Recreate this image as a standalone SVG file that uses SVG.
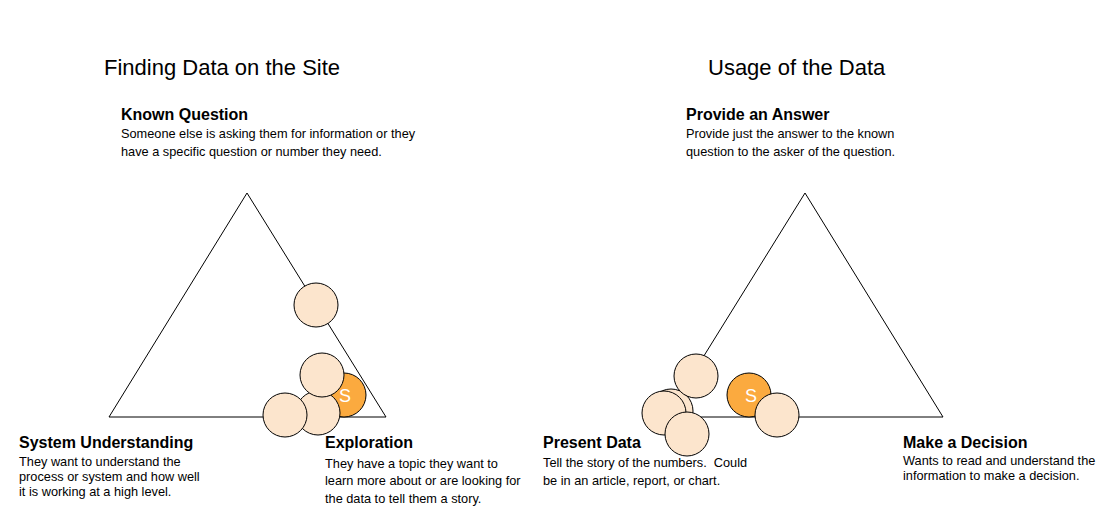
<svg xmlns="http://www.w3.org/2000/svg" width="1108" height="519" viewBox="0 0 1108 519">
<style>
.t{font-family:"Liberation Sans",Arial,sans-serif;fill:#000}
.title{font-size:22px}
.h{font-size:16px;font-weight:bold}
.b{font-size:12.75px}
.tri{fill:none;stroke:#000;stroke-width:1}
.p{fill:#FCE5CD;stroke:#000;stroke-width:1}
.o{fill:#FBAA3F;stroke:#000;stroke-width:1}
.s{font-family:"Liberation Sans",Arial,sans-serif;font-size:18px;fill:#fff;text-anchor:middle}
</style>
<rect width="1108" height="519" fill="#fff"/>
<g id="connectors">
<polygon class="tri" points="247,193 109,417 386,417"/>
<polygon class="tri" points="805,193 666,417 943,417"/>
</g>
<g id="title-left"><text class="t title" x="104" y="74.5">Finding Data on the Site</text></g>
<g id="title-right"><text class="t title" x="708" y="74.5">Usage of the Data</text></g>
<g id="known-question">
<text class="t h" x="121" y="120">Known Question</text>
<text class="t b" x="121" y="137.5">Someone else is asking them for information or they</text>
<text class="t b" x="121" y="156">have a specific question or number they need.</text>
</g>
<g id="system-understanding">
<text class="t h" x="19" y="448">System Understanding</text>
<text class="t b" x="19" y="466">They want to understand the</text>
<text class="t b" x="19" y="481">process or system and how well</text>
<text class="t b" x="19" y="496">it is working at a high level.</text>
</g>
<g id="exploration">
<text class="t h" x="325" y="448">Exploration</text>
<text class="t b" x="325" y="467.5">They have a topic they want to</text>
<text class="t b" x="325" y="485">learn more about or are looking for</text>
<text class="t b" x="325" y="502.5">the data to tell them a story.</text>
</g>
<g id="provide-answer">
<text class="t h" x="686" y="120">Provide an Answer</text>
<text class="t b" x="686" y="138">Provide just the answer to the known</text>
<text class="t b" x="686" y="156">question to the asker of the question.</text>
</g>
<g id="present-data">
<text class="t h" x="543" y="448">Present Data</text>
<text class="t b" x="543" y="467" xml:space="preserve">Tell the story of the numbers.  Could</text>
<text class="t b" x="543" y="485">be in an article, report, or chart.</text>
</g>
<g id="make-decision">
<text class="t h" x="903" y="448">Make a Decision</text>
<text class="t b" x="903" y="465">Wants to read and understand the</text>
<text class="t b" x="903" y="479.5">information to make a decision.</text>
</g>
<g id="left-circles">
<circle class="p" cx="316" cy="305" r="22"/>
<g id="left-s"><circle class="o" cx="344" cy="395" r="22"/><text class="s" x="345" y="401.5">S</text></g>
<circle class="p" cx="318" cy="413" r="22"/>
<circle class="p" cx="285" cy="415" r="22"/>
<circle class="p" cx="322" cy="375" r="22"/>
</g>
<g id="right-circles">
<circle class="p" cx="671" cy="411" r="22"/>
<circle class="p" cx="664" cy="413" r="22"/>
<circle class="p" cx="687" cy="434" r="22"/>
<circle class="p" cx="696" cy="376" r="22"/>
<g id="right-s"><circle class="o" cx="749" cy="395" r="22"/><text class="s" x="751" y="401.5">S</text></g>
<circle class="p" cx="777" cy="415" r="22"/>
</g>
</svg>
